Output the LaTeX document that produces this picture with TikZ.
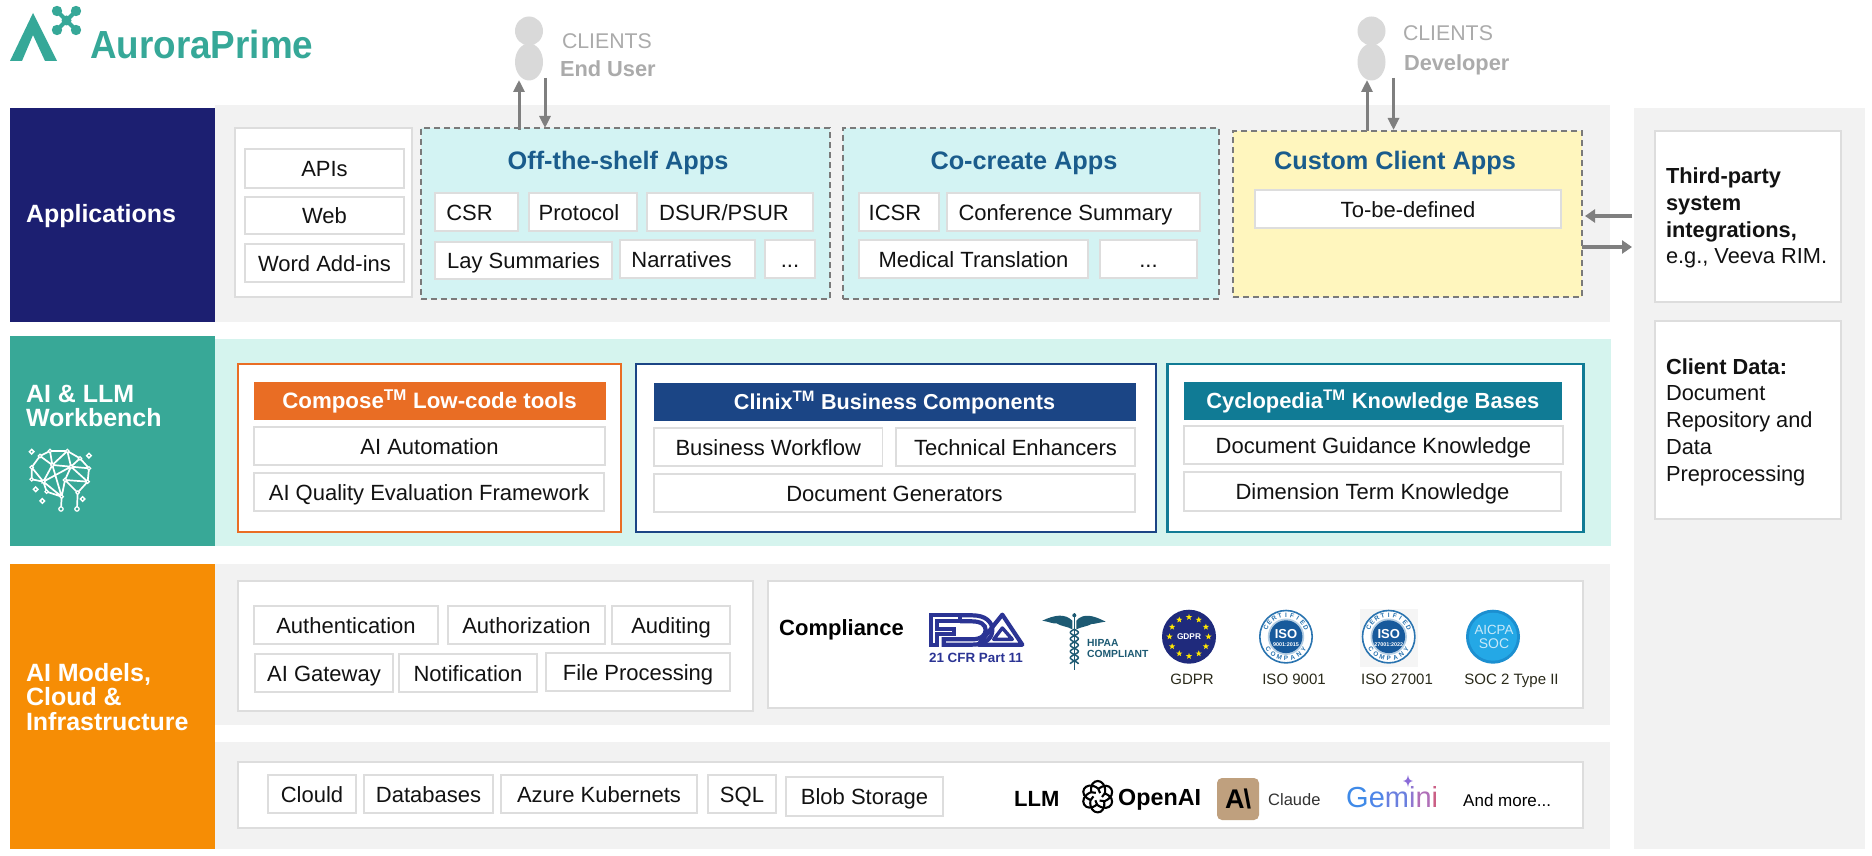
\documentclass[tikz,border=0pt]{standalone}
\usepackage{graphicx}
\usepackage{fontspec}
\setmainfont{Liberation Sans}
\usetikzlibrary{arrows.meta,calc,shapes.geometric}
\definecolor{navyB}{HTML}{1C1F71}
\definecolor{tealB}{HTML}{38A897}
\definecolor{orangeB}{HTML}{F68D05}
\definecolor{panelG}{HTML}{F2F2F2}
\definecolor{panelT}{HTML}{D5F4EE}
\definecolor{appC}{HTML}{D3F3F3}
\definecolor{appY}{HTML}{FFF6BE}
\definecolor{titleB}{HTML}{1A5C8C}
\definecolor{edgeG}{HTML}{DDDDDD}
\definecolor{dashG}{HTML}{7A7A7A}
\definecolor{arrG}{HTML}{7F7F7F}
\definecolor{clientG}{HTML}{D9D9D9}
\definecolor{clientT}{HTML}{ABABAB}
\definecolor{compO}{HTML}{E96D24}
\definecolor{clinB}{HTML}{1B4585}
\definecolor{cycT}{HTML}{107B95}
\definecolor{logoT}{HTML}{36A898}
\definecolor{fdaB}{HTML}{2B3494}
\definecolor{hipaaB}{HTML}{1D5A73}
\definecolor{gdprB}{HTML}{1F2A7C}
\definecolor{isoB}{HTML}{175A9C}
\definecolor{isoR}{HTML}{2A74B0}
\definecolor{socB}{HTML}{1C8FD0}
\definecolor{socL}{HTML}{24A8E6}
\definecolor{claudeB}{HTML}{BFA07E}
\definecolor{labelK}{HTML}{2A2A1A}
\definecolor{gemA}{HTML}{3F8AE8}
\definecolor{gemB}{HTML}{4E86E8}
\definecolor{gemC}{HTML}{6A7FDF}
\definecolor{gemD}{HTML}{8F77D0}
\definecolor{gemE}{HTML}{B06FB8}
\definecolor{gemF}{HTML}{CB5F85}
\definecolor{gemS}{HTML}{8A6BD8}
\newcommand\fsz[1]{\fontsize{#1}{#1}\selectfont}
\tikzset{
  area/.style={draw=none,rectangle,inner sep=0pt,outer sep=0pt,anchor=north west},
  smallbox/.style={area,draw=edgeG,line width=1.3pt,fill=white},
  headbox/.style={area,line width=1pt},
  appbox/.style={area,draw=dashG,line width=1.2pt,dash pattern=on 6pt off 4pt},
  framebox/.style={area,line width=2.2pt,fill=white},
  lbl/.style={inner sep=0pt,outer sep=0pt,text=black!93,font=\fsz{22}},
  blocktxt/.style={inner sep=0pt,outer sep=0pt,text=white,font=\bfseries\fontsize{25}{24.5}\selectfont,align=left,anchor=west},
  apptitle/.style={inner sep=0pt,outer sep=0pt,text=titleB,font=\bfseries\fsz{25.3},anchor=base},
  headtxt/.style={inner sep=0pt,outer sep=0pt,text=white,anchor=base},
  clienttxt/.style={inner sep=0pt,outer sep=0pt,text=clientT,font=\fsz{21.3},anchor=base west},
  clientbold/.style={clienttxt,font=\bfseries\fsz{21.8}},
  sidetxt/.style={inner sep=0pt,outer sep=0pt,text=black!93,font=\fontsize{21.8}{26.8}\selectfont,align=left,anchor=west},
  logolabel/.style={inner sep=0pt,outer sep=0pt,text=labelK,font=\fsz{15},anchor=base},
  vflow/.style={draw=arrG,line width=3pt,-{Triangle[length=12pt,width=11pt]}},
  hflow/.style={draw=arrG,line width=4pt,-{Triangle[length=10pt,width=13pt]}},
}
% rectangle node from corners
\newcommand\ar[6]{\node[#6,minimum width={(#4-#2)*1pt},minimum height={(#5-#3)*1pt}] (#1) at (#2,#3) {};}
% white box with a label
\newcommand\bx[7][0]{\node[smallbox,minimum width={(#5-#3)*1pt},minimum height={(#6-#4)*1pt}] (#2) at (#3,#4) {};
  \node[lbl,anchor=base] (#2t) at ([xshift=#1pt,yshift=-8pt]#2.center) {#7};}
% header bar
\newcommand\hd[8]{\node[headbox,draw=#6,fill=#6,minimum width={(#4-#2)*1pt},minimum height={(#5-#3)*1pt}] (#1) at (#2,#3) {};
  \node[headtxt,font=\bfseries\fsz{#7}] (#1t) at ([yshift=-8pt]#1.center) {#8};}
% ISO badge
\newcommand\isobadge[4]{%
  \fill[white] (#2,#3) circle[radius=27];
  \draw[isoR,line width=1.6pt] (#2,#3) circle[radius=26.2];
  \fill[isoR!35] (#2,#3) circle[radius=18.2];
  \fill[isoB] (#2,#3) circle[radius=16.4];
  \node[inner sep=0pt,text=white,font=\bfseries\fsz{13}] (#1a) at (#2,#3-3) {ISO};
  \node[inner sep=0pt,text=white,font=\bfseries\fsz{5.4}] (#1b) at (#2,#3+7.5) {#4};
  \foreach \l [count=\i] in {C,E,R,T,I,F,I,E,D}{
    \pgfmathsetmacro\ph{-66+(\i-1)*16.5}
    \node[inner sep=0pt,text=isoR,font=\bfseries\fsz{6.4},rotate=-\ph] (#1c\i) at ({#2+21.8*sin(\ph)},{#3-21.8*cos(\ph)}) {\l};
  }
  \foreach \l [count=\i] in {C,O,M,P,A,N,Y}{
    \pgfmathsetmacro\ph{-54+(\i-1)*18}
    \node[inner sep=0pt,text=isoR,font=\bfseries\fsz{6.4},rotate=\ph] (#1d\i) at ({#2+21.8*sin(\ph)},{#3+21.8*cos(\ph)}) {\l};
  }
}
\begin{document}
\begin{tikzpicture}[x=1pt,y=-1pt]
\useasboundingbox (0,0) rectangle (1872,856);
\fill[white] (0,0) rectangle (1872,856);

% ---------- logo
\fill[logoT] (33,13) -- (57,61) -- (45,61) -- (33,35) -- (22,61) -- (10,61) -- cycle;
\draw[logoT,line width=4pt] (57,11) -- (76,30) (76,11) -- (57,30);
\fill[logoT] (57,11) circle[radius=5.2] (76,11) circle[radius=5.2] (57,30) circle[radius=5.2] (76,30) circle[radius=5.2] (66.5,20.5) circle[radius=5];
\node[inner sep=0pt,text=logoT,font=\bfseries\fsz{39.2},anchor=base west] (logotext) at (90,59) {\scalebox{0.94}[1]{AuroraPrime}};

% ---------- panels
\ar{rightpanel}{1634}{108}{1865}{849}{area,fill=panelG}
\ar{panelapp}{215}{105}{1610}{322}{area,fill=panelG}
\ar{panelwb}{215}{339}{1611}{546}{area,fill=panelT}
\ar{panelinfa}{215}{564}{1610}{725}{area,fill=panelG}
\ar{panelinfb}{215}{742}{1610}{849}{area,fill=panelG}
\ar{blockapp}{10}{108}{215}{322}{area,fill=navyB}
\ar{blockwb}{10}{336}{215}{546}{area,fill=tealB}
\ar{blockinf}{10}{564}{215}{849}{area,fill=orangeB}
\node[blocktxt] (blockappt) at (26,216) {Applications};
\node[blocktxt] (blockwbt) at (26,406) {AI \& LLM\\Workbench};
\node[blocktxt] (blockinft) at (26,697) {AI Models,\\Cloud \&\\Infrastructure};

% ---------- brain icon
\begin{scope}[shift={(15,440)},x=.3333pt,y=-.3333pt]
  \coordinate (b1) at (75,48); \coordinate (b2) at (105,33); \coordinate (b3) at (157,33);
  \coordinate (b4) at (195,55); \coordinate (b5) at (222,85); \coordinate (b6) at (218,125);
  \coordinate (b7) at (188,158); \coordinate (b8) at (150,120); \coordinate (b9) at (168,80);
  \coordinate (b10) at (112,75); \coordinate (b11) at (50,82); \coordinate (b12) at (50,118);
  \coordinate (b13) at (85,125); \coordinate (b14) at (95,155); \coordinate (b15) at (140,170);
  \coordinate (b16) at (138,207); \coordinate (b17) at (186,207);
  \draw[white,line width=1.7pt] (b1)--(b2)--(b3)--(b4)--(b5)--(b6)--(b7)--(b8) (b1)--(b11)--(b12)--(b13)--(b14)--(b15)--(b16)
    (b7)--(b17) (b2)--(b10)--(b1) (b10)--(b3) (b3)--(b9)--(b4) (b9)--(b5) (b9)--(b6) (b9)--(b8)--(b6)
    (b10)--(b13)--(b9) (b10)--(b15) (b13)--(b15) (b8)--(b15) (b11)--(b13) (b10)--(b9);
  \foreach \p in {b1,b2,b3,b4,b5,b6,b7,b8,b9,b10,b11,b12,b13,b14,b15}
    \filldraw[fill=tealB,draw=white,line width=1.2pt] (\p) circle[radius=1.7pt];
  \foreach \p in {b16,b17}
    \filldraw[fill=tealB,draw=white,line width=1.2pt] (\p) circle[radius=2.2pt];
  \foreach \q in {(50,35),(222,47),(62,148),(82,183),(203,177)}
    \fill[white,shift={\q}] (0,-10)--(10,0)--(0,10)--(-10,0)--cycle;
  \foreach \q in {(50,35),(222,47),(62,148),(82,183),(203,177)}
    \fill[tealB,shift={\q}] (0,-3)--(3,0)--(0,3)--(-3,0)--cycle;
\end{scope}

% ---------- applications row
\ar{ifacebox}{235}{128}{412}{297}{smallbox}
\bx{apis}{245}{149}{404}{188}{APIs}
\bx{web}{245}{197}{404}{234}{Web}
\bx{wordadd}{245}{244}{404}{282}{Word Add-ins}

\ar{offapps}{421}{128}{830}{299}{appbox,fill=appC}
\node[apptitle] (offtitle) at (618,170) {Off-the-shelf Apps};
\bx[-7]{csr}{435}{193}{518}{231}{CSR}
\bx[-4]{protocol}{529}{193}{637}{231}{Protocol}
\bx[-6]{dsur}{647}{193}{813}{231}{DSUR/PSUR}
\bx{lay}{435}{242}{612}{279}{Lay Summaries}
\bx[-6]{narr}{620}{240}{755}{278}{Narratives}
\bx{mored}{765}{240}{815}{278}{...}

\ar{coapps}{843}{128}{1219}{299}{appbox,fill=appC}
\node[apptitle] (cotitle) at (1024,170) {Co-create Apps};
\bx[-4]{icsr}{859}{193}{939}{231}{ICSR}
\bx[-8]{conf}{947}{193}{1200}{231}{Conference Summary}
\bx{medtr}{859}{240}{1088}{278}{Medical Translation}
\bx{coved}{1100}{240}{1197}{278}{...}

\ar{cusapps}{1233}{131}{1582}{297}{appbox,fill=appY}
\node[apptitle] (custitle) at (1395,170) {Custom Client Apps};
\bx{tbd}{1255}{190}{1561}{228}{To-be-defined}

% ---------- clients
\fill[clientG] (529,31) ellipse (14 and 14.5);
\fill[clientG] (529,62) ellipse (14 and 18.5);
\node[clienttxt] (cl1a) at (562,48.5) {CLIENTS};
\node[clientbold] (cl1b) at (560,76.5) {End User};
\fill[clientG] (1371.5,31) ellipse (14 and 14.5);
\fill[clientG] (1371.5,62) ellipse (14 and 18.5);
\node[clienttxt] (cl2a) at (1403,41) {CLIENTS};
\node[clientbold] (cl2b) at (1404,71) {Developer};

\coordinate (u1a) at (519,130); \coordinate (u1b) at (519,80);
\coordinate (d1a) at (545,78); \coordinate (d1b) at (545,128);
\coordinate (u2a) at (1367,131); \coordinate (u2b) at (1367,80);
\coordinate (d2a) at (1393.5,78); \coordinate (d2b) at (1393.5,130);
\draw[vflow] (u1a) -- (u1b);
\draw[vflow] (d1a) -- (d1b);
\draw[vflow] (u2a) -- (u2b);
\draw[vflow] (d2a) -- (d2b);

% ---------- right column
\ar{thirdbox}{1655}{131}{1841}{302}{smallbox}
\node[sidetxt] (thirdt) at (1666,218) {\textbf{Third-party}\\\textbf{system}\\\textbf{integrations,}\\e.g., Veeva RIM.};
\ar{clientbox}{1655}{321}{1841}{519}{smallbox}
\node[sidetxt] (clientt) at (1666,422) {\textbf{Client Data:}\\Document\\Repository and\\Data\\Preprocessing};
\coordinate (ha) at (1632,216); \coordinate (hb) at (1585,216);
\coordinate (hc) at (1582,247); \coordinate (hd) at (1632,247);
\draw[hflow] (ha) -- (hb);
\draw[hflow] (hc) -- (hd);

% ---------- workbench row
\ar{composebox}{238}{364}{621}{532}{framebox,draw=compO}
\hd{composehd}{254}{382}{605}{419}{compO}{22.3}{Compose\textsuperscript{TM} Low-code tools}
\bx{aiauto}{254}{427}{605}{465}{AI Automation}
\bx{aiqual}{254}{473}{604}{511}{AI Quality Evaluation Framework}

\ar{clinixbox}{636}{364}{1156}{532}{framebox,draw=clinB}
\hd{clinixhd}{654}{383}{1135}{420}{clinB}{21.6}{Clinix\textsuperscript{TM} Business Components}
\bx{bizwf}{654}{428}{882.5}{466}{Business Workflow}
\bx{techen}{896}{428}{1135}{466}{Technical Enhancers}
\bx{docgen}{654}{474}{1135}{512}{Document Generators}

\ar{cycbox}{1167.5}{364}{1583.5}{532}{framebox,draw=cycT}
\hd{cychd}{1184}{382}{1561.5}{419}{cycT}{21.9}{Cyclopedia\textsuperscript{TM} Knowledge Bases}
\bx{docguide}{1184}{426}{1563}{464}{Document Guidance Knowledge}
\bx{dimterm}{1184}{472}{1561}{511}{Dimension Term Knowledge}

% ---------- infrastructure rows
\ar{secbox}{238}{581}{753}{711}{smallbox}
\bx{authn}{254}{606}{438}{644}{Authentication}
\bx{authz}{448}{606}{605}{644}{Authorization}
\bx{audit}{612}{606}{730}{644}{Auditing}
\bx{gateway}{255}{654}{393}{692}{AI Gateway}
\bx{notif}{399}{654}{537}{692}{Notification}
\bx{filep}{546}{653}{730}{691}{File Processing}

\ar{compbox}{768}{581}{1583}{708}{smallbox}
\node[inner sep=0pt,text=black,font=\bfseries\fsz{22},anchor=base west] (compt) at (779,635) {Compliance};

% FDA
\begin{scope}[shift={(915,600)},x=.3333pt,y=-.3333pt]
  \draw[fdaB,line width=4.2pt,line join=miter]
    (47,134) -- (47,46) -- (135,46) -- (135,64) -- (67,64) -- (67,86) -- (118,86) -- (118,102) -- (67,102) -- (67,134) -- cycle;
  \draw[fdaB,line width=4.2pt]
    (135,46) -- (172,46) .. controls (212,46) and (232,66) .. (232,90) .. controls (232,114) and (212,134) .. (172,134) -- (86,134) -- (86,118) -- (170,118) .. controls (198,118) and (212,106) .. (212,90) .. controls (212,74) and (198,64) .. (170,64) -- (135,64);
  \draw[fdaB,line width=4.2pt,line join=round] (190,134) -- (262,44) -- (322,134) -- cycle;
  \draw[fdaB,line width=3.4pt,line join=round] (236,118) -- (262,84) -- (292,118) -- cycle;
  % caduceus
  \fill[hipaaB] (472,62) .. controls (450,40) and (420,44) .. (382,62) .. controls (405,66) and (415,72) .. (425,70) .. controls (440,80) and (455,78) .. (472,88) -- cycle;
  \fill[hipaaB] (484,62) .. controls (505,38) and (535,46) .. (572,65) .. controls (550,68) and (540,72) .. (530,72) .. controls (515,80) and (500,80) .. (484,88) -- cycle;
  \draw[hipaaB,line width=1.4pt] (478,40) -- (478,210);
  \fill[hipaaB] (478,46) circle[radius=6];
  \draw[hipaaB,line width=1.5pt,domain=88:192,samples=60] plot ({478+12*sin((\x-88)*9.5)},\x);
  \draw[hipaaB,line width=1.5pt,domain=88:192,samples=60] plot ({478-12*sin((\x-88)*9.5)},\x);
\end{scope}
\node[inner sep=0pt,text=fdaB,font=\bfseries\fsz{13.4}] (fdat) at (976,658) {21 CFR Part 11};
\node[inner sep=0pt,text=hipaaB,font=\bfseries\fsz{10.3},anchor=west] (hipaa1) at (1087,643) {HIPAA};
\node[inner sep=0pt,text=hipaaB,font=\bfseries\fsz{10.3},anchor=west] (hipaa2) at (1087,654) {COMPLIANT};

% GDPR
\fill[gdprB] (1189,636.7) circle[radius=27];
\foreach \k in {0,...,11}
  \node[star,star points=5,star point ratio=2.4,fill=yellow!90!orange,inner sep=0pt,minimum size=6.5pt,outer sep=0pt] (gst\k) at ({1189+19.5*cos(\k*30)},{636.7+19.5*sin(\k*30)}) {};
\node[inner sep=0pt,text=white,font=\bfseries\fsz{8.3}] (gdprin) at (1189,637) {GDPR};
\node[logolabel] (gdprl) at (1192,684) {GDPR};

% ISO
\fill[black!4] (1360,609) rectangle (1417.7,667);
\isobadge{isoa}{1286}{636.7}{9001:2015}
\isobadge{isob}{1388.7}{636.7}{27001:2022}
\node[logolabel] (isoal) at (1294,684) {ISO 9001};
\node[logolabel] (isobl) at (1397,684) {ISO 27001};

% SOC
\fill[socB] (1493,636.7) circle[radius=27];
\fill[socL] (1493,636.7) circle[radius=24];
\node[inner sep=0pt,text=white!75!socL,font=\fsz{13.3}] (soca) at (1494,630) {AICPA};
\node[inner sep=0pt,text=white!75!socL,font=\fsz{14}] (socb) at (1494,643.5) {SOC};
\node[logolabel] (socl) at (1511.5,684) {SOC 2 Type II};

\ar{stackbox}{238}{762}{1583}{828}{smallbox}
\bx{clould}{268}{775}{356}{813}{Clould}
\bx{dbs}{364}{775}{493}{813}{Databases}
\bx{azure}{501}{775}{697}{813}{Azure Kubernets}
\bx{sql}{708}{775}{776}{813}{SQL}
\bx{blob}{786}{777}{943}{816}{Blob Storage}

\node[inner sep=0pt,text=black,font=\bfseries\fsz{22},anchor=base west] (llm) at (1014,806) {LLM};
% OpenAI knot
\foreach \a in {0,60,...,300}
  \draw[black,line width=2.1pt,rotate around={\a:(1097.7,796.7)}]
    (1091.5,793) .. controls (1088,777) and (1107,777) .. (1105,793) -- (1102,797);
\node[inner sep=0pt,text=black,font=\fsz{23.3},anchor=base west] (openai) at (1118,805) {\textbf{OpenAI}};
% Claude
\node[area,fill=claudeB,rounded corners=5pt,minimum width=42pt,minimum height=42pt] (claudebg) at (1217,778) {};
\node[inner sep=0pt,text=black,font=\bfseries\fsz{27}] (claudelogo) at (claudebg.center) {A\kern-1pt\textbackslash};
\node[inner sep=0pt,text=black!80,font=\fsz{16.5},anchor=base west] (claude) at (1268,805) {Claude};
% Gemini
\node[inner sep=0pt,font=\fsz{29},anchor=base west] (gemini) at (1346,807) {\color{gemA}G\color{gemB}e\color{gemC}m\color{gemD}i\color{gemE}n\color{gemF}i};
\fill[gemS] (1408,775) .. controls (1408.6,779) and (1409.5,780.4) .. (1413,781) .. controls (1409.5,781.6) and (1408.6,783) .. (1408,787) .. controls (1407.4,783) and (1406.5,781.6) .. (1403,781) .. controls (1406.5,780.4) and (1407.4,779) .. (1408,775) -- cycle;
\node[inner sep=0pt,text=black,font=\fsz{17},anchor=base west] (andmore) at (1463,806) {And more...};
\end{tikzpicture}
\end{document}
